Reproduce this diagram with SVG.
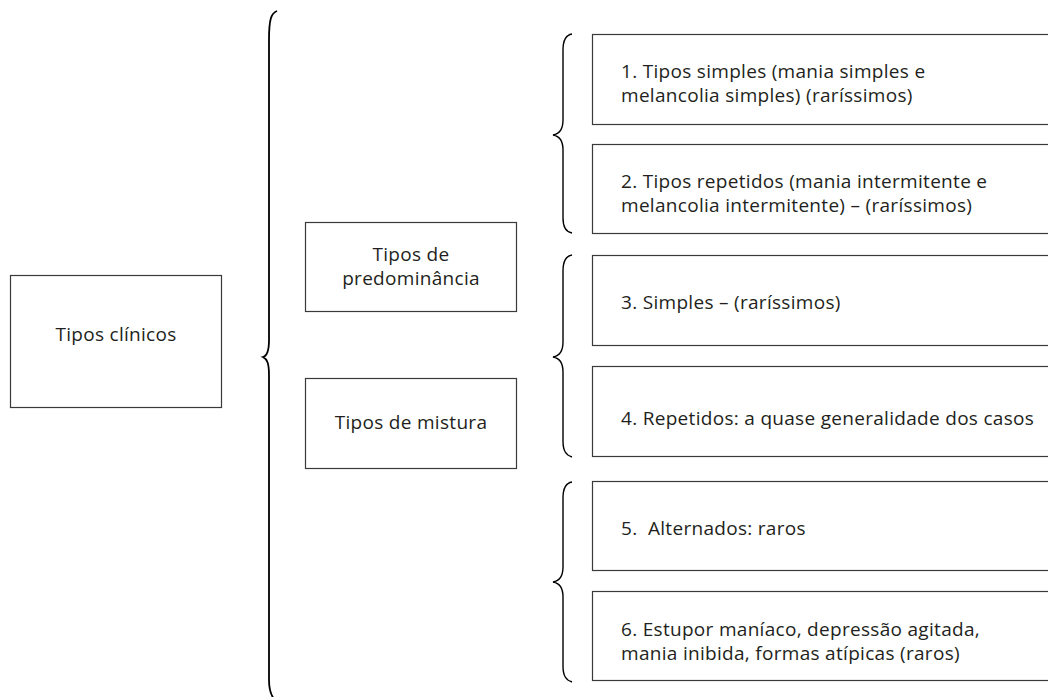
<svg xmlns="http://www.w3.org/2000/svg" width="1048" height="697" viewBox="0 0 1048 697">
<style>
.box{fill:#fff;stroke:#3a3a3a;stroke-width:1.2}
.t{font-family:"Open Sans","Noto Sans","Liberation Sans",sans-serif;font-size:19px;letter-spacing:0.3px;fill:#231f20}
.c{text-anchor:middle}
.br{fill:none;stroke:#000;stroke-width:1.4}
.bb{fill:none;stroke:#000;stroke-width:1.8}
</style>
<rect width="1048" height="697" fill="#fff"/>
<g id="connectors">
<path class="bb" d="M 277 11 C 271 13, 269 20, 269 40 L 269 340 C 269 352, 267 356, 263 357 C 267 359, 269 363, 269 375 L 269 680 C 269 690, 271 695, 274 699"/>
<path class="br" d="M 572 34 C 566 35, 563 40, 563 50 L 563 120 C 563 130, 559 134, 553 135 C 559 136, 563 140, 563 150 L 563 218 C 563 228, 566 232, 572 233"/>
<path class="br" d="M 572 255 C 566 256, 563 261, 563 271 L 563 342 C 563 352, 559 356, 553 357 C 559 358, 563 362, 563 372 L 563 441 C 563 451, 566 455, 572 457"/>
<path class="br" d="M 572 482 C 566 483, 563 488, 563 498 L 563 567 C 563 577, 559 581, 553 582 C 559 583, 563 587, 563 597 L 563 666 C 563 676, 566 680, 572 682"/>
</g>
<g id="n-clinicos">
<rect class="box" x="10.5" y="275.5" width="211" height="132"/>
<text class="t c" x="116" y="341">Tipos clínicos</text>
</g>
<g id="n-predominancia">
<rect class="box" x="305.5" y="222.5" width="211" height="89"/>
<text class="t c" x="411" y="261">Tipos de</text>
<text class="t c" x="411" y="285">predominância</text>
</g>
<g id="n-mistura">
<rect class="box" x="305.5" y="378.5" width="211" height="90"/>
<text class="t c" x="411" y="429">Tipos de mistura</text>
</g>
<g id="n-1">
<rect class="box" x="592.5" y="34.5" width="470" height="90"/>
<text class="t" x="621" y="78">1. Tipos simples (mania simples e</text>
<text class="t" x="621" y="102">melancolia simples) (raríssimos)</text>
</g>
<g id="n-2">
<rect class="box" x="592.5" y="144.5" width="470" height="89"/>
<text class="t" x="621" y="188">2. Tipos repetidos (mania intermitente e</text>
<text class="t" x="621" y="212">melancolia intermitente) – (raríssimos)</text>
</g>
<g id="n-3">
<rect class="box" x="592.5" y="255.5" width="470" height="90"/>
<text class="t" x="621" y="309">3. Simples – (raríssimos)</text>
</g>
<g id="n-4">
<rect class="box" x="592.5" y="366.5" width="470" height="90"/>
<text class="t" x="621" y="425">4. Repetidos: a quase generalidade dos casos</text>
</g>
<g id="n-5">
<rect class="box" x="592.5" y="481.5" width="470" height="89"/>
<text class="t" x="621" y="535" xml:space="preserve">5.  Alternados: raros</text>
</g>
<g id="n-6">
<rect class="box" x="592.5" y="591.5" width="470" height="89"/>
<text class="t" x="621" y="636">6. Estupor maníaco, depressão agitada,</text>
<text class="t" x="621" y="660">mania inibida, formas atípicas (raros)</text>
</g>
</svg>
